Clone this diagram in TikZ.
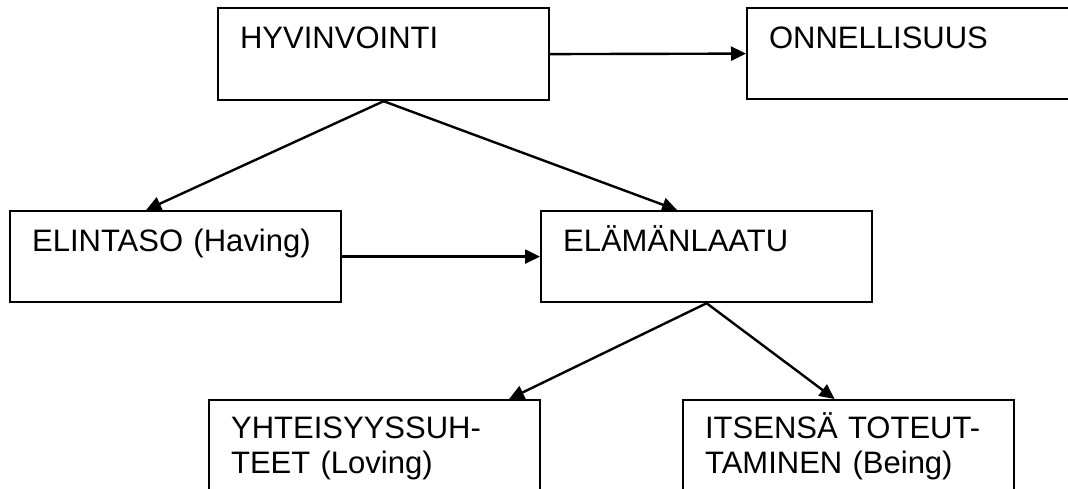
\documentclass[tikz,border=0pt]{standalone}
\usepackage{fontspec}
\setmainfont{Liberation Sans}
\usetikzlibrary{arrows.meta}

\begin{document}
\begin{tikzpicture}[
        x = 1pt, y = -1pt,
        every node/.style = {draw, line width = 2.2pt, anchor = north west,
                inner xsep = 22pt, inner ysep = 0pt, text width = 287pt, align = left,
                text height = 40pt, text depth = 51pt, font = \fontsize{31}{35}\selectfont},
        low/.style = {text height = 38pt, text depth = 120pt},
        arr/.style = {-{Triangle[length = 15pt, width = 14pt]}, line width = 2.4pt}
        ]
        \clip (0,0) rectangle (1068,488);
        \node[text depth = 52pt] (hyv) at (217,7) {HYVINVOINTI};
        \node (onn) at (746,7) {ONNELLISUUS};
        \node (elin) at (9,210) {ELINTASO (Having)};
        \node (elam) at (540,210) {ELÄMÄNLAATU};
        \node[low] (yht) at (208,399) {YHTEISYYSSUH-\\TEET (Loving)};
        \node[low] (its) at (682,399) {ITSENSÄ TOTEUT-\\TAMINEN (Being)};
        \draw[arr] (hyv.east) -- (onn.west);
        \draw[arr] (elin.east) -- (elam.west);
        \draw[arr] (hyv.south) -- ([xshift = -29.5pt]elin.north);
        \draw[arr] (hyv.south) -- ([xshift = -29.5pt]elam.north);
        \draw[arr] (elam.south) -- ([xshift = 134.5pt]yht.north);
        \draw[arr] (elam.south) -- ([xshift = -14pt]its.north);
\end{tikzpicture}
\end{document}
